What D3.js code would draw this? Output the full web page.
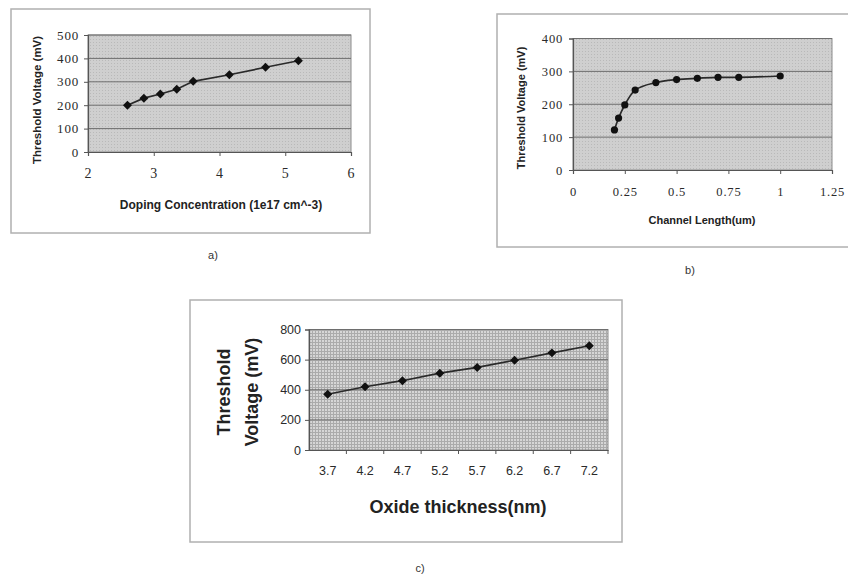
<!DOCTYPE html>
<html lang="en">
<head>
<meta charset="UTF-8"/>
<title>Threshold Voltage panels</title>
<script src="https://d3js.org/d3.v7.min.js"></script>
<style>
  body { margin: 0; background: #fff; }
  .title { font-family: "Liberation Sans", Arial, sans-serif; font-weight: bold; fill: #222; }
  .caption { font-family: "Liberation Sans", Arial, sans-serif; font-size: 11px; fill: #333; }
</style>
</head>
<body>
<div id="chart"></div>
<script>

// a) doping concentration
var dopingX = [2.6, 2.85, 3.1, 3.35, 3.6, 4.15, 4.7, 5.2];
var dopingVt = [200, 230, 248, 268, 302, 330, 362, 390];
var dopingXTicks = [2, 3, 4, 5, 6];
var dopingYTicks = [0, 100, 200, 300, 400, 500];

// b) channel length
var lengthX = [0.2, 0.22, 0.25, 0.3, 0.4, 0.5, 0.6, 0.7, 0.8, 1.0];
var lengthVt = [122, 158, 198, 243, 266, 275, 279, 282, 282, 286];
var lengthXTicks = [0, 0.25, 0.5, 0.75, 1, 1.25];
var lengthYTicks = [0, 100, 200, 300, 400];

// c) oxide thickness
var oxideLabels = ["3.7", "4.2", "4.7", "5.2", "5.7", "6.2", "6.7", "7.2"];
var oxideVt = [370, 420, 460, 510, 548, 596, 645, 692];
var oxideYTicks = [0, 200, 400, 600, 800];

var w = 848, h = 576;

var svg = d3.select("#chart")
            .append("svg")
            .attr("width", w)
            .attr("height", h);

// fill patterns for the plot areas
var defs = svg.append("defs");
var dots = defs.append("pattern")
    .attr("id", "dots")
    .attr("width", 3).attr("height", 3)
    .attr("patternUnits", "userSpaceOnUse");
dots.append("rect").attr("width", 3).attr("height", 3).attr("fill", "#cfcfcf");
dots.append("rect").attr("width", 1).attr("height", 1).attr("fill", "#b9b9b9");

var hatch = defs.append("pattern")
    .attr("id", "hatch")
    .attr("width", 3).attr("height", 3)
    .attr("patternUnits", "userSpaceOnUse");
hatch.append("rect").attr("width", 3).attr("height", 3).attr("fill", "#d6d6d6");
hatch.append("rect").attr("width", 3).attr("height", 1).attr("fill", "#ababab");
hatch.append("rect").attr("width", 1).attr("height", 3).attr("fill", "#ababab");

// outer frames
function frame(x, y, fw, fh) {
    svg.append("rect")
        .attr("x", x).attr("y", y)
        .attr("width", fw).attr("height", fh)
        .attr("fill", "none")
        .attr("stroke", "#b0b0b0")
        .attr("stroke-width", 1.5);
}
frame(11, 9, 359, 224);
frame(497, 14, 360, 233);
frame(190, 300, 432, 242);

function plotArea(x0, x1, y0, y1, fill) {
    svg.append("rect")
        .attr("x", x0).attr("y", y1)
        .attr("width", x1 - x0).attr("height", y0 - y1)
        .attr("fill", fill)
        .attr("stroke", "#8c8c8c")
        .attr("stroke-width", 1);
}

function gridlines(xScale, yScale, ticks) {
    svg.append("g")
        .selectAll("line")
        .data(ticks.slice(1))
        .enter()
        .append("line")
        .attr("x1", xScale.range()[0])
        .attr("x2", xScale.range()[1])
        .attr("y1", function(d) { return yScale(d); })
        .attr("y2", function(d) { return yScale(d); })
        .attr("stroke", "#6e6e6e")
        .attr("stroke-width", 1);
}

function styleAxis(g, size, serif) {
    g.select(".domain").attr("stroke", "#555").attr("stroke-width", 1.2);
    g.selectAll(".tick line").attr("stroke", "#555");
    g.selectAll("text")
        .attr("fill", "#2a2a2a")
        .style("font-size", size + "px")
        .style("letter-spacing", serif ? "0.8px" : "0px")
        .style("font-family", serif ? "'Liberation Serif', serif" : "'Liberation Sans', Arial, sans-serif");
}

// Excel style diamond: a square turned by 45 degrees
var diamond = d3.symbol().type(d3.symbolSquare).size(40);
function markerAt(x, y) {
    return "translate(" + x + "," + y + ") rotate(45)";
}

// ---------- a) ----------
var ax = d3.scaleLinear().domain([2, 6]).range([88, 351]);
var ay = d3.scaleLinear().domain([0, 500]).range([152, 35]);
plotArea(88, 351, 152, 35, "url(#dots)");
gridlines(ax, ay, dopingYTicks);

svg.append("g")
    .attr("transform", "translate(0,152)")
    .call(d3.axisBottom(ax).tickValues(dopingXTicks).tickSize(4).tickPadding(12).tickFormat(d3.format("d")))
    .call(function(g) { styleAxis(g, 14, true); });
svg.append("g")
    .attr("transform", "translate(88,0)")
    .call(d3.axisLeft(ay).tickValues(dopingYTicks).tickSize(4).tickPadding(5))
    .call(function(g) { styleAxis(g, 13, true); });

svg.append("path")
    .datum(d3.range(dopingX.length))
    .attr("fill", "none")
    .attr("stroke", "#2a2a2a")
    .attr("stroke-width", 1.7)
    .attr("d", d3.line()
        .x(function(i) { return ax(dopingX[i]); })
        .y(function(i) { return ay(dopingVt[i]); }));

svg.append("g")
    .selectAll("path")
    .data(d3.range(dopingX.length))
    .enter()
    .append("path")
    .attr("d", diamond)
    .attr("transform", function(i) { return markerAt(ax(dopingX[i]), ay(dopingVt[i])); })
    .attr("fill", "#111");

svg.append("text")
    .attr("class", "title")
    .attr("x", 221).attr("y", 209)
    .attr("text-anchor", "middle")
    .style("font-size", "12px")
    .text("Doping Concentration (1e17 cm^-3)");
svg.append("text")
    .attr("class", "title")
    .attr("transform", "translate(41,100) rotate(-90)")
    .attr("text-anchor", "middle")
    .style("font-size", "11.5px")
    .text("Threshold Voltage (mV)");
svg.append("text")
    .attr("class", "caption")
    .attr("x", 213).attr("y", 259)
    .attr("text-anchor", "middle")
    .text("a)");

// ---------- b) ----------
var bx = d3.scaleLinear().domain([0, 1.25]).range([573, 832]);
var by = d3.scaleLinear().domain([0, 400]).range([170, 38.5]);
plotArea(573, 832, 170, 38.5, "url(#dots)");
gridlines(bx, by, lengthYTicks);

svg.append("g")
    .attr("transform", "translate(0,170)")
    .call(d3.axisBottom(bx).tickValues(lengthXTicks).tickSize(4).tickPadding(13).tickFormat(d3.format("")))
    .call(function(g) { styleAxis(g, 12.5, true); });
svg.append("g")
    .attr("transform", "translate(573,0)")
    .call(d3.axisLeft(by).tickValues(lengthYTicks).tickSize(4).tickPadding(6))
    .call(function(g) { styleAxis(g, 12.5, true); });

svg.append("path")
    .datum(d3.range(lengthX.length))
    .attr("fill", "none")
    .attr("stroke", "#2a2a2a")
    .attr("stroke-width", 1.7)
    .attr("d", d3.line()
        .curve(d3.curveMonotoneX)
        .x(function(i) { return bx(lengthX[i]); })
        .y(function(i) { return by(lengthVt[i]); }));

svg.append("g")
    .selectAll("circle")
    .data(d3.range(lengthX.length))
    .enter()
    .append("circle")
    .attr("cx", function(i) { return bx(lengthX[i]); })
    .attr("cy", function(i) { return by(lengthVt[i]); })
    .attr("r", 3.6)
    .attr("fill", "#111");

svg.append("text")
    .attr("class", "title")
    .attr("x", 702).attr("y", 224)
    .attr("text-anchor", "middle")
    .style("font-size", "11px")
    .text("Channel Length(um)");
svg.append("text")
    .attr("class", "title")
    .attr("transform", "translate(525,108) rotate(-90)")
    .attr("text-anchor", "middle")
    .style("font-size", "11px")
    .text("Threshold Voltage (mV)");
svg.append("text")
    .attr("class", "caption")
    .attr("x", 690).attr("y", 274)
    .attr("text-anchor", "middle")
    .text("b)");

// ---------- c) ----------
var cx = d3.scaleBand().domain(oxideLabels).range([309, 608]);
var cy = d3.scaleLinear().domain([0, 800]).range([450, 329.5]);
plotArea(309, 608, 450, 329.5, "url(#hatch)");
gridlines(cx, cy, oxideYTicks);

var cxAxis = svg.append("g")
    .attr("transform", "translate(0,450)")
    .call(d3.axisBottom(cx).tickSize(0).tickPadding(16))
    .call(function(g) { styleAxis(g, 12.5, false); });
// category boundary ticks
cxAxis.selectAll("line.bound")
    .data(oxideLabels)
    .enter()
    .append("line")
    .attr("class", "bound")
    .attr("x1", function(d) { return cx(d) + cx.bandwidth(); })
    .attr("x2", function(d) { return cx(d) + cx.bandwidth(); })
    .attr("y1", 0).attr("y2", 4)
    .attr("stroke", "#555");

svg.append("g")
    .attr("transform", "translate(309,0)")
    .call(d3.axisLeft(cy).tickValues(oxideYTicks).tickSize(4).tickPadding(4))
    .call(function(g) { styleAxis(g, 12.5, false); });

svg.append("path")
    .datum(d3.range(oxideLabels.length))
    .attr("fill", "none")
    .attr("stroke", "#2a2a2a")
    .attr("stroke-width", 1.7)
    .attr("d", d3.line()
        .x(function(i) { return cx(oxideLabels[i]) + cx.bandwidth() / 2; })
        .y(function(i) { return cy(oxideVt[i]); }));

svg.append("g")
    .selectAll("path")
    .data(d3.range(oxideLabels.length))
    .enter()
    .append("path")
    .attr("d", diamond)
    .attr("transform", function(i) {
        return markerAt(cx(oxideLabels[i]) + cx.bandwidth() / 2, cy(oxideVt[i]));
    })
    .attr("fill", "#111");

svg.append("text")
    .attr("class", "title")
    .attr("x", 458).attr("y", 513)
    .attr("text-anchor", "middle")
    .style("font-size", "18px")
    .text("Oxide thickness(nm)");
var cyTitle = svg.append("text")
    .attr("class", "title")
    .attr("transform", "translate(230,392) rotate(-90)")
    .attr("text-anchor", "middle")
    .style("font-size", "18px");
cyTitle.append("tspan").attr("x", 0).attr("dy", 0).text("Threshold");
cyTitle.append("tspan").attr("x", 0).attr("dy", 28).text("Voltage (mV)");

svg.append("text")
    .attr("class", "caption")
    .attr("x", 420).attr("y", 572)
    .attr("text-anchor", "middle")
    .text("c)");

</script>
</body>
</html>
